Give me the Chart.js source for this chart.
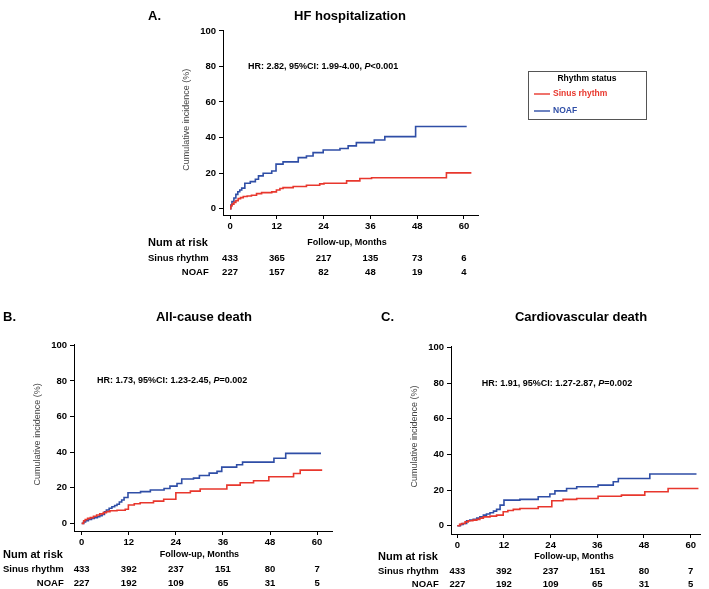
<!DOCTYPE html>
<html><head><meta charset="utf-8">
<script src="https://cdn.jsdelivr.net/npm/chart.js@4.4.1/dist/chart.umd.min.js"></script>
<style>
html,body{margin:0;padding:0;background:#fff;width:709px;height:589px;overflow:hidden;position:relative}
canvas{position:absolute}
</style></head><body>
<canvas id="cA" width="569" height="290" style="left:140px;top:0px"></canvas>
<canvas id="cB" width="345" height="299" style="left:0px;top:290px"></canvas>
<canvas id="cC" width="364" height="299" style="left:345px;top:290px"></canvas>
<script>
// ---------- data ----------
const monthTicks = [0, 12, 24, 36, 48, 60];
const incidenceTicks = [0, 20, 40, 60, 80, 100];
const groupNames = ['Sinus rhythm', 'NOAF'];
const legendTitle = 'Rhythm status';
const riskTitle = 'Num at risk';
const xAxisTitle = 'Follow-up, Months';
const yAxisTitle = 'Cumulative incidence (%)';

// A. HF hospitalization
const hfSinusMonths = [0,0.2,0.5,1,1.5,2.1,2.7,3.4,4.4,5.5,6.8,8.1,10.7,11.9,12.8,13.6,16.2,19.6,23,24.1,29.9,33.3,36.3,55.5,61.9];
const hfSinusPct    = [0,1.5,2.5,3.5,4.5,5.6,6.2,6.8,7.1,7.5,8.4,9.0,9.4,10.5,11.3,11.8,12.4,13.1,13.9,14.3,15.6,16.9,17.4,20.1,20.1];
const hfNoafMonths  = [0,0.2,0.5,1,1.5,2,2.5,3,3.8,5.2,6.5,7.3,8.5,10.7,11.8,13.6,17.5,19.6,21.3,23.9,28.2,30.3,32.4,37,39.7,47.6,60.7];
const hfNoafPct     = [0,2,4,6,8,9.5,10.5,11.5,14.3,15.2,16.5,18.4,19.9,21.2,25,26.3,28.7,29.6,31.5,33,33.8,35.3,37.1,38.6,40.5,46.2,46.2];
const hfRiskSinus = [433, 365, 217, 135, 73, 6];
const hfRiskNoaf  = [227, 157, 82, 48, 19, 4];

// B. All-cause death
const acdSinusMonths = [0,0.5,0.9,1.5,2.2,3,3.8,4.6,5.5,6.3,7.2,9,11.1,11.9,13.4,14.9,18.3,20.9,24,27.7,30.2,37,40.4,43.8,47.7,54,55.7,61.3];
const acdSinusPct    = [0,1.5,2.2,2.8,3.2,4,4.7,5.3,6,6.6,7.1,7.4,7.9,10.3,11,11.6,12.5,13.5,17.2,18.1,19.3,21.5,22.8,23.9,26.2,28,29.9,29.9];
const acdNoafMonths  = [0,0.5,1,1.7,2.5,3.2,4,4.6,5.2,5.8,6.3,7,7.7,8.4,9,9.6,10.2,10.8,11.8,15,17.5,21,22.5,24.3,25.5,28.5,30,32.5,34.5,35.7,39.5,41,49,52,61];
const acdNoafPct     = [0,0.8,1.5,2.2,2.8,3.2,3.7,4.3,5,6.5,7.5,8.5,9.3,10,10.7,12,13.1,14.5,17.2,17.8,18.7,19.6,20.9,22.4,24.9,25.4,26.9,28.2,29.2,31.6,32.9,34.4,36.6,39.3,39.3];
const acdRiskSinus = [433, 392, 237, 151, 80, 7];
const acdRiskNoaf  = [227, 192, 109, 65, 31, 5];

// C. Cardiovascular death
const cvdSinusMonths = [0,0.6,1.1,2,2.8,4,5,5.8,6.7,8.4,10.1,11.8,13,14.4,16.1,20.8,24.3,27.2,30.7,36.2,42.2,48.2,54.2,62];
const cvdSinusPct    = [0,0.8,1.3,2.2,2.8,3.2,3.6,4.3,5,5.4,6,7.9,8.6,9.2,9.7,10.7,14,14.8,15.3,16.6,17.2,19.1,20.9,20.9];
const cvdNoafMonths  = [0,0.8,1.5,2.4,3.2,4.1,5,5.8,6.7,7.5,8.4,9.3,10.1,11,12,16.1,20.8,23.8,25.1,28.1,30.7,36.2,40.1,41.4,49.5,61.5];
const cvdNoafPct     = [0,0.7,1.3,2.8,3.2,3.6,4.3,5,6,6.6,7.3,8.2,9.2,11.6,14.4,14.8,16.3,17.8,19.6,20.9,21.9,22.8,24.7,26.5,29,29];
const cvdRiskSinus = [433, 392, 237, 151, 80, 7];
const cvdRiskNoaf  = [227, 192, 109, 65, 31, 5];

// ---------- drawing ----------
const FONT = '"Liberation Sans", Arial, Helvetica, sans-serif';
const RED = '#e8372d';
const BLUE = '#2f4ea6';

function txt(ctx, s, x, y, o = {}) {
  const size = o.size || 9, weight = o.weight || 'bold', style = o.style || 'normal';
  ctx.font = `${style} ${weight} ${size}px ${FONT}`;
  ctx.fillStyle = o.color || '#000';
  ctx.textAlign = o.align || 'left';
  ctx.textBaseline = 'middle';
  ctx.fillText(s, x, y);
  return ctx.measureText(s).width;
}

const kmDecor = {
  id: 'kmDecor',
  afterDraw(chart, args, o) {
    const { ctx, chartArea: ca, scales: { x, y } } = chart;
    const ox = o.canvasLeft, oy = o.canvasTop;
    ctx.save();
    txt(ctx, o.letter, o.letterX - ox, o.titleY - oy, { size: 13 });
    txt(ctx, o.title, o.titleX - ox, o.titleY - oy, { size: 13, align: 'center' });
    let hx = x.getPixelForValue(o.hrAt[0]);
    const hy = y.getPixelForValue(o.hrAt[1]);
    for (const [s, italic] of o.hrParts) {
      hx += txt(ctx, s, hx, hy, { size: 9, style: italic ? 'italic' : 'normal' });
    }
    txt(ctx, xAxisTitle, x.getPixelForValue(30), o.rowY[0] - oy, { size: 9, align: 'center' });
    txt(ctx, riskTitle, o.riskX - ox, o.rowY[0] - oy, { size: 11 });
    ctx.font = `bold 9.5px ${FONT}`;
    const labW = ctx.measureText(groupNames[0]).width;
    txt(ctx, groupNames[0], o.riskX - ox, o.rowY[1] - oy, { size: 9.5 });
    txt(ctx, groupNames[1], o.riskX - ox + labW, o.rowY[2] - oy, { size: 9.5, align: 'right' });
    o.risk.forEach((row, r) => {
      row.forEach((n, i) => {
        txt(ctx, String(n), x.getPixelForValue(monthTicks[i]), o.rowY[r + 1] - oy, { size: 9.5, align: 'center' });
      });
    });
    ctx.save();
    ctx.translate(ca.left - 36, y.getPixelForValue(50));
    ctx.rotate(-Math.PI / 2);
    txt(ctx, yAxisTitle, 0, 0, { size: 9, weight: 'normal', color: '#444', align: 'center' });
    ctx.restore();
    if (o.legend) {
      const L = o.legend;
      const bx = L.box[0] - ox, by = L.box[1] - oy, bw = L.box[2], bh = L.box[3];
      ctx.strokeStyle = '#555'; ctx.lineWidth = 1;
      ctx.strokeRect(bx + 0.5, by + 0.5, bw, bh);
      txt(ctx, legendTitle, bx + bw / 2, by + 8, { size: 8.5, align: 'center' });
      chart.data.datasets.forEach((ds, i) => {
        const ly = by + 23 + i * 17;
        ctx.strokeStyle = ds.borderColor; ctx.lineWidth = 1.4;
        ctx.beginPath(); ctx.moveTo(bx + 6, ly); ctx.lineTo(bx + 22, ly); ctx.stroke();
        txt(ctx, ds.label, bx + 25, ly, { size: 8.5, color: ds.borderColor });
      });
    }
    ctx.restore();
  }
};

function toPoints(months, pct) { return months.map((m, i) => ({ x: m, y: pct[i] })); }

function makePanel(id, P) {
  const cv = document.getElementById(id);
  const W = cv.width, H = cv.height;
  const xH = 22;
  new Chart(cv, {
    type: 'line',
    data: {
      datasets: [
        { label: groupNames[0], data: toPoints(P.sinusMonths, P.sinusPct), borderColor: RED },
        { label: groupNames[1], data: toPoints(P.noafMonths, P.noafPct), borderColor: BLUE }
      ].map(d => Object.assign(d, { stepped: true, pointRadius: 0, borderWidth: 1.6, fill: false, tension: 0 }))
    },
    options: {
      responsive: false, animation: false, events: [],
      layout: { padding: {
        left: 0,
        top: P.plot[1] - P.canvasTop,
        right: P.canvasLeft + W - P.plot[2],
        bottom: P.canvasTop + H - P.plot[3] - xH } },
      plugins: { legend: { display: false }, tooltip: { enabled: false }, kmDecor: P.decor },
      scales: {
        x: {
          type: 'linear', min: P.xr[0], max: P.xr[1],
          afterBuildTicks: s => { s.ticks = monthTicks.map(v => ({ value: v })); },
          afterFit: s => { s.height = xH; },
          grid: { display: true, drawOnChartArea: false, drawTicks: true, tickLength: 4, color: '#000', lineWidth: 1 },
          border: { display: true, color: '#000', width: 1 },
          ticks: { font: { family: FONT, size: 9.5, weight: 'bold' }, color: '#000', padding: 2, maxRotation: 0, autoSkip: false }
        },
        y: {
          type: 'linear', min: P.yr[0], max: P.yr[1],
          afterBuildTicks: s => { s.ticks = incidenceTicks.map(v => ({ value: v })); },
          afterFit: s => { s.width = P.plot[0] - P.canvasLeft; },
          grid: { display: true, drawOnChartArea: false, drawTicks: true, tickLength: 4, color: '#000', lineWidth: 1 },
          border: { display: true, color: '#000', width: 1 },
          ticks: { font: { family: FONT, size: 9.5, weight: 'bold' }, color: '#000', padding: 3, autoSkip: false }
        }
      }
    },
    plugins: [kmDecor]
  });
}

makePanel('cA', {
  canvasLeft: 140, canvasTop: 0, plot: [223, 30, 478, 215], xr: [-1.8, 63.6], yr: [-3.6, 100.5],
  sinusMonths: hfSinusMonths, sinusPct: hfSinusPct, noafMonths: hfNoafMonths, noafPct: hfNoafPct,
  decor: {
    canvasLeft: 140, canvasTop: 0, letter: 'A.', letterX: 148, title: 'HF hospitalization', titleX: 350, titleY: 16,
    hrAt: [4.6, 80], hrParts: [['HR: 2.82, 95%CI: 1.99-4.00, ', false], ['P', true], ['<0.001', false]],
    riskX: 148, rowY: [242.5, 258.5, 272], risk: [hfRiskSinus, hfRiskNoaf],
    legend: { box: [528, 71, 118, 48] }
  }
});
makePanel('cB', {
  canvasLeft: 0, canvasTop: 290, plot: [74, 344.5, 332, 531], xr: [-1.96, 63.8], yr: [-4.3, 100.5],
  sinusMonths: acdSinusMonths, sinusPct: acdSinusPct, noafMonths: acdNoafMonths, noafPct: acdNoafPct,
  decor: {
    canvasLeft: 0, canvasTop: 290, letter: 'B.', letterX: 3, title: 'All-cause death', titleX: 204, titleY: 317,
    hrAt: [3.9, 80], hrParts: [['HR: 1.73, 95%CI: 1.23-2.45, ', false], ['P', true], ['=0.002', false]],
    riskX: 3, rowY: [555, 569.5, 583.5], risk: [acdRiskSinus, acdRiskNoaf]
  }
});
makePanel('cC', {
  canvasLeft: 345, canvasTop: 290, plot: [451, 346.5, 700, 534], xr: [-1.62, 62.4], yr: [-4.6, 100.5],
  sinusMonths: cvdSinusMonths, sinusPct: cvdSinusPct, noafMonths: cvdNoafMonths, noafPct: cvdNoafPct,
  decor: {
    canvasLeft: 345, canvasTop: 290, letter: 'C.', letterX: 381, title: 'Cardiovascular death', titleX: 581, titleY: 317,
    hrAt: [6.3, 80], hrParts: [['HR: 1.91, 95%CI: 1.27-2.87, ', false], ['P', true], ['=0.002', false]],
    riskX: 378, rowY: [557, 571, 584.5], risk: [cvdRiskSinus, cvdRiskNoaf]
  }
});
</script>
</body></html>
